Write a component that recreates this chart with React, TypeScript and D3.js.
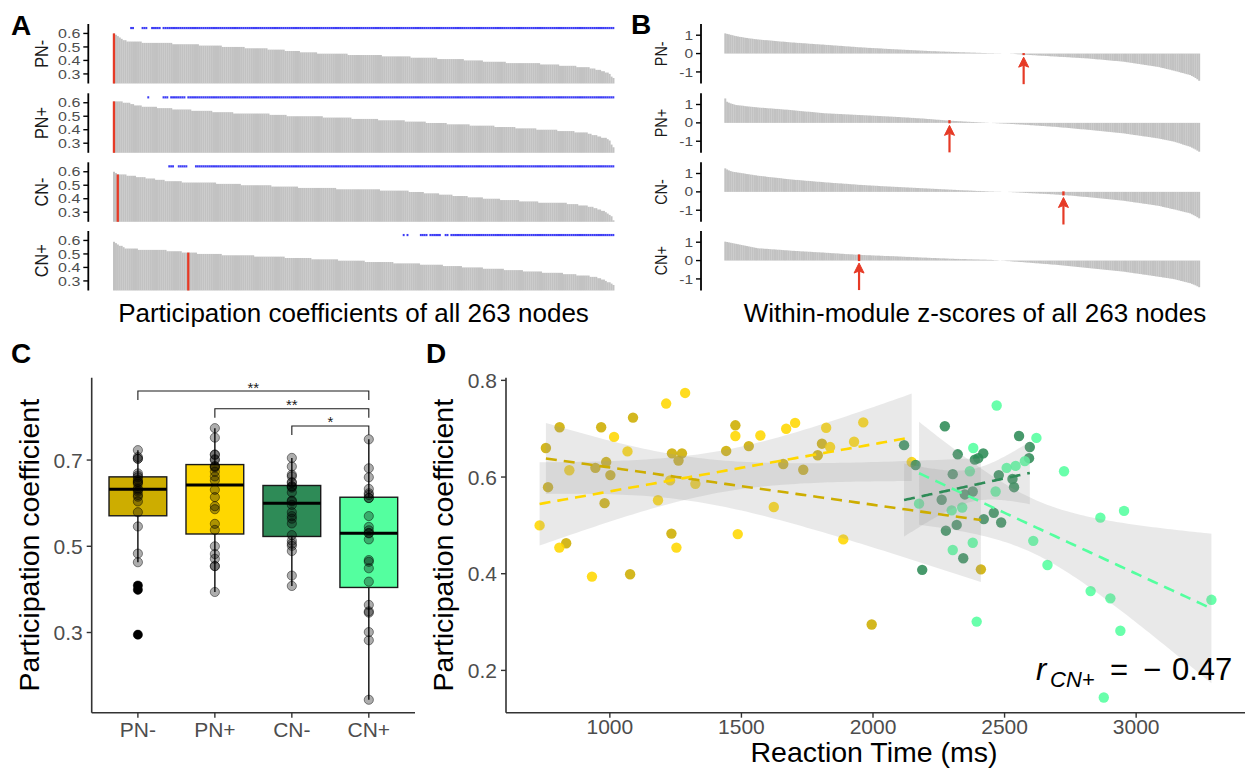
import React from "react";
import * as d3 from "d3";

const FONT = "'Liberation Sans', Arial, Helvetica, sans-serif";

const conditions = ["PN-", "PN+", "CN-", "CN+"];
const conditionColors = ["#CDAD00", "#FFD700", "#2E8B57", "#54FF9F"];

// ---------- Panel A: participation coefficients of 263 nodes (sorted) ----------
const pcNodesPNm = [
  0.60,0.59,0.58,0.57,0.56,0.55,0.55,
  0.54,0.54,0.54,0.54,0.54,0.54,0.54,0.54,
  0.53,0.53,0.53,0.53,0.53,0.53,0.53,0.53,0.53,0.53,0.53,0.53,0.53,0.53,0.53,0.53,
  0.52,0.52,0.52,0.52,0.52,0.52,0.52,0.52,0.52,0.52,0.52,0.52,0.52,0.52,
  0.51,0.51,0.51,0.51,0.51,0.51,0.51,0.51,0.51,0.51,0.51,0.51,
  0.50,0.50,0.50,0.50,0.50,0.50,0.50,0.50,0.50,0.50,0.50,0.50,
  0.49,0.49,0.49,0.49,0.49,0.49,0.49,0.49,0.49,0.49,0.49,0.49,
  0.48,0.48,0.48,0.48,0.48,0.48,0.48,0.48,0.48,
  0.47,0.47,0.47,0.47,0.47,0.47,0.47,0.47,
  0.46,0.46,0.46,0.46,0.46,0.46,0.46,0.46,0.46,
  0.45,0.45,0.45,0.45,0.45,0.45,0.45,0.45,0.45,0.45,0.45,0.45,0.45,0.45,0.45,0.45,
  0.44,0.44,0.44,0.44,0.44,0.44,0.44,0.44,0.44,0.44,0.44,0.44,0.44,0.44,0.44,0.44,0.44,0.44,
  0.43,0.43,0.43,0.43,0.43,0.43,0.43,0.43,0.43,0.43,0.43,0.43,0.43,0.43,0.43,
  0.42,0.42,0.42,0.42,0.42,0.42,0.42,0.42,0.42,0.42,0.42,0.42,0.42,0.42,
  0.41,0.41,0.41,0.41,0.41,0.41,0.41,0.41,0.41,0.41,0.41,0.41,0.41,0.41,
  0.40,0.40,0.40,0.40,0.40,0.40,0.40,0.40,0.40,0.40,
  0.39,0.39,0.39,0.39,0.39,0.39,0.39,0.39,0.39,0.39,0.39,0.39,
  0.38,0.38,0.38,0.38,0.38,0.38,0.38,0.38,0.38,0.38,0.38,0.38,0.38,0.38,0.38,0.38,0.38,0.38,
  0.37,0.37,0.37,0.37,0.37,0.37,0.37,0.37,0.37,0.37,
  0.36,0.36,0.36,0.36,0.36,0.36,0.36,0.36,0.36,
  0.35,0.35,0.35,0.35,0.35,0.35,0.35,
  0.34,0.34,0.34,0.33,0.33,0.33,0.32,0.32,0.31,0.31,0.30,0.28,0.27,
];
const pcNodesPNp = [
  0.61,0.61,0.61,0.61,0.61,
  0.60,0.60,0.60,0.60,
  0.59,0.59,
  0.58,0.58,0.58,0.58,
  0.57,0.57,0.57,0.57,0.57,0.57,0.57,0.57,
  0.56,0.56,0.56,0.56,0.56,0.56,0.56,0.56,
  0.55,0.55,0.55,0.55,0.55,0.55,0.55,0.55,0.55,0.55,
  0.54,0.54,0.54,0.54,0.54,0.54,0.54,0.54,0.54,0.54,0.54,
  0.53,0.53,0.53,0.53,0.53,0.53,0.53,0.53,0.53,0.53,0.53,
  0.52,0.52,0.52,0.52,0.52,0.52,0.52,0.52,0.52,0.52,0.52,0.52,0.52,0.52,0.52,0.52,0.52,0.52,0.52,
  0.51,0.51,0.51,0.51,0.51,0.51,0.51,0.51,0.51,
  0.50,0.50,0.50,0.50,0.50,0.50,0.50,0.50,0.50,0.50,0.50,0.50,0.50,0.50,0.50,0.50,0.50,0.50,0.50,
  0.49,0.49,0.49,0.49,0.49,0.49,0.49,0.49,0.49,0.49,0.49,0.49,0.49,0.49,0.49,
  0.48,0.48,0.48,0.48,0.48,0.48,0.48,0.48,0.48,0.48,0.48,0.48,0.48,0.48,
  0.47,0.47,0.47,0.47,0.47,0.47,0.47,0.47,0.47,0.47,0.47,0.47,0.47,0.47,
  0.46,0.46,0.46,0.46,0.46,0.46,0.46,0.46,0.46,0.46,0.46,
  0.45,0.45,0.45,0.45,0.45,0.45,0.45,0.45,0.45,0.45,0.45,
  0.44,0.44,0.44,0.44,0.44,0.44,0.44,0.44,0.44,0.44,0.44,0.44,
  0.43,0.43,0.43,0.43,0.43,0.43,0.43,0.43,0.43,0.43,0.43,0.43,0.43,
  0.42,0.42,0.42,0.42,0.42,0.42,0.42,0.42,0.42,0.42,0.42,
  0.41,0.41,0.41,0.41,0.41,0.41,0.41,0.41,0.41,0.41,0.41,
  0.40,0.40,0.40,0.40,0.40,0.40,0.40,0.40,0.40,0.40,0.40,
  0.39,0.39,0.39,0.39,0.39,0.39,0.39,0.39,0.39,
  0.38,0.38,0.38,0.38,0.38,0.38,0.38,
  0.37,0.37,0.36,0.36,0.36,0.35,0.35,0.34,0.34,0.34,0.33,0.32,0.29,0.27,
];
const pcNodesCNm = [
  0.60,0.59,
  0.58,0.58,0.58,0.58,0.58,
  0.57,0.57,0.57,0.57,0.57,
  0.56,0.56,0.56,0.56,0.56,
  0.55,0.55,0.55,0.55,0.55,
  0.54,0.54,0.54,0.54,0.54,
  0.53,0.53,0.53,0.53,0.53,0.53,0.53,0.53,0.53,
  0.52,0.52,0.52,0.52,0.52,0.52,0.52,0.52,0.52,0.52,0.52,0.52,0.52,0.52,0.52,0.52,0.52,0.52,
  0.51,0.51,0.51,0.51,0.51,0.51,0.51,0.51,0.51,0.51,0.51,0.51,0.51,
  0.50,0.50,0.50,0.50,0.50,0.50,0.50,0.50,0.50,0.50,0.50,0.50,0.50,0.50,0.50,0.50,
  0.49,0.49,0.49,0.49,0.49,0.49,0.49,0.49,0.49,0.49,0.49,0.49,0.49,0.49,
  0.48,0.48,0.48,0.48,0.48,0.48,0.48,0.48,0.48,0.48,0.48,0.48,0.48,0.48,0.48,0.48,0.48,0.48,0.48,0.48,
  0.47,0.47,0.47,0.47,0.47,0.47,0.47,0.47,0.47,0.47,0.47,0.47,0.47,0.47,0.47,0.47,0.47,0.47,0.47,0.47,0.47,0.47,0.47,
  0.46,0.46,0.46,0.46,0.46,0.46,0.46,0.46,0.46,0.46,0.46,0.46,0.46,0.46,0.46,
  0.45,0.45,0.45,0.45,0.45,0.45,0.45,0.45,
  0.44,0.44,0.44,0.44,0.44,0.44,0.44,0.44,
  0.43,0.43,0.43,0.43,0.43,0.43,0.43,
  0.42,0.42,0.42,0.42,0.42,0.42,0.42,0.42,
  0.41,0.41,0.41,0.41,0.41,0.41,0.41,0.41,
  0.40,0.40,0.40,0.40,0.40,0.40,0.40,0.40,0.40,
  0.39,0.39,0.39,0.39,0.39,0.39,0.39,0.39,0.39,0.39,
  0.38,0.38,0.38,0.38,0.38,0.38,0.38,0.38,0.38,0.38,
  0.37,0.37,0.37,0.37,0.37,0.37,0.37,0.37,0.37,0.37,0.37,0.37,0.37,0.37,0.37,
  0.36,0.36,0.36,0.36,0.36,0.36,
  0.35,0.35,0.35,0.35,0.35,
  0.34,0.34,0.34,0.33,0.33,0.32,0.32,0.31,0.31,0.30,0.29,0.28,0.27,0.24,
];
const pcNodesCNp = [
  0.59,0.58,0.57,0.56,0.56,0.55,
  0.54,0.54,0.54,0.54,0.54,0.54,0.54,
  0.53,0.53,0.53,0.53,0.53,0.53,0.53,0.53,0.53,0.53,0.53,0.53,0.53,0.53,0.53,
  0.52,0.52,0.52,0.52,0.52,0.52,0.52,0.52,
  0.51,0.51,0.51,0.51,0.51,0.51,0.51,0.51,
  0.50,0.50,0.50,0.50,0.50,0.50,0.50,0.50,0.50,0.50,0.50,0.50,0.50,
  0.49,0.49,0.49,0.49,0.49,0.49,0.49,0.49,0.49,0.49,0.49,0.49,0.49,0.49,0.49,0.49,0.49,
  0.48,0.48,0.48,0.48,0.48,0.48,0.48,0.48,0.48,0.48,0.48,0.48,0.48,0.48,0.48,0.48,
  0.47,0.47,0.47,0.47,0.47,0.47,0.47,0.47,0.47,0.47,0.47,0.47,0.47,0.47,
  0.46,0.46,0.46,0.46,0.46,0.46,0.46,0.46,0.46,0.46,0.46,0.46,0.46,0.46,
  0.45,0.45,0.45,0.45,0.45,0.45,0.45,0.45,0.45,0.45,0.45,0.45,0.45,0.45,
  0.44,0.44,0.44,0.44,0.44,0.44,0.44,0.44,0.44,0.44,0.44,0.44,0.44,0.44,0.44,
  0.43,0.43,0.43,0.43,0.43,0.43,0.43,0.43,0.43,0.43,0.43,0.43,0.43,0.43,
  0.42,0.42,0.42,0.42,0.42,0.42,0.42,0.42,0.42,0.42,0.42,0.42,
  0.41,0.41,0.41,0.41,0.41,0.41,0.41,0.41,0.41,0.41,
  0.40,0.40,0.40,0.40,0.40,0.40,0.40,0.40,0.40,0.40,0.40,
  0.39,0.39,0.39,0.39,0.39,0.39,0.39,0.39,0.39,0.39,0.39,
  0.38,0.38,0.38,0.38,0.38,0.38,0.38,0.38,0.38,0.38,
  0.37,0.37,0.37,0.37,0.37,0.37,0.37,0.37,0.37,0.37,
  0.36,0.36,0.36,0.36,0.36,0.36,0.36,0.36,0.36,0.36,0.36,
  0.35,0.35,0.35,0.35,0.35,0.35,0.35,
  0.34,0.34,0.34,0.34,0.34,0.34,0.34,
  0.33,0.33,0.33,0.33,0.32,0.32,0.31,0.31,0.30,0.29,0.29,0.28,0.27,
];
const pcNodeRows = [pcNodesPNm, pcNodesPNp, pcNodesCNm, pcNodesCNp];
const highlightNodeA = [0, 0, 2, 39];
const sigNodeRangesA = [
  [[9, 10], [15, 17], [20, 24], [26, 262]],
  [[18, 18], [26, 28], [30, 37], [39, 262]],
  [[29, 31], [34, 38], [43, 262]],
  [[152, 152], [154, 154], [161, 164], [166, 171], [174, 175], [177, 181], [182, 262]],
];
const pcTicksA = [0.3, 0.4, 0.5, 0.6];
const pcDomainA = [0.229, 0.67];
const sigLevelA = 0.64;

// ---------- Panel B: within-module z-scores of 263 nodes (sorted) ----------
const zNodesPNm = [
  1.10,1.07,1.05,1.02,1.00,0.97,0.95,
  0.93,0.91,0.90,0.88,0.86,
  0.85,0.83,0.82,0.81,0.79,0.78,0.77,
  0.76,0.75,0.74,0.73,0.73,0.72,0.71,0.70,0.69,0.68,0.67,0.66,0.65,0.65,0.64,0.63,0.62,0.61,
  0.60,0.60,0.59,0.58,0.58,0.57,0.56,0.56,0.55,0.54,0.53,0.53,0.52,0.51,0.51,0.50,0.49,0.49,0.48,
  0.47,0.47,0.46,0.45,0.44,0.44,0.43,0.42,0.42,0.41,0.40,0.39,0.39,0.38,0.37,0.37,0.36,0.35,
  0.34,0.34,0.33,0.33,0.32,0.31,0.31,0.30,0.30,0.29,0.29,0.28,0.28,0.27,0.26,0.26,0.25,0.25,0.24,
  0.24,0.23,0.23,0.22,0.22,0.21,0.21,0.20,0.20,0.19,0.19,0.18,0.18,0.17,0.17,0.16,0.16,0.15,
  0.15,0.14,0.14,0.13,0.13,0.13,0.12,0.12,0.11,0.11,0.11,0.10,0.10,0.10,0.09,0.09,0.08,0.08,
  0.08,0.07,0.07,0.07,0.06,0.06,0.06,0.05,0.05,0.05,0.04,0.04,0.04,0.03,0.03,0.03,0.02,0.02,0.02,
  0.02,0.01,0.01,0.01,0.01,0.00,0.00,0.00,0.00,0.00,
  -0.01,-0.01,-0.02,-0.03,-0.04,-0.04,-0.05,-0.06,
  -0.07,-0.07,-0.08,-0.08,-0.09,-0.09,-0.10,-0.11,-0.11,-0.12,-0.12,-0.13,-0.13,-0.14,-0.15,-0.15,-0.16,-0.16,-0.17,
  -0.18,-0.18,-0.19,-0.19,-0.20,-0.20,-0.21,-0.22,-0.22,-0.23,-0.23,-0.24,-0.25,-0.25,-0.26,-0.26,-0.27,-0.28,
  -0.29,-0.30,-0.31,-0.32,-0.32,-0.33,-0.34,-0.35,-0.36,-0.37,-0.38,-0.39,-0.40,-0.40,-0.41,-0.42,-0.43,-0.44,
  -0.45,-0.47,-0.48,-0.50,-0.51,-0.53,-0.54,-0.56,-0.57,-0.59,-0.60,-0.62,-0.63,-0.65,-0.66,-0.68,-0.69,-0.71,-0.72,
  -0.74,-0.77,-0.79,-0.81,-0.84,-0.86,-0.88,-0.91,-0.93,
  -0.96,-0.98,-1.01,-1.04,-1.06,-1.09,-1.12,-1.14,-1.17,
  -1.22,-1.27,-1.33,-1.40,-1.48,
];
const zNodesPNp = [
  1.33,1.15,1.10,1.06,1.03,1.00,0.97,
  0.96,0.95,0.94,0.93,0.91,0.90,0.89,0.88,0.87,0.86,0.85,0.84,
  0.83,0.82,0.82,0.81,0.80,0.79,0.79,0.78,0.77,0.76,0.76,0.75,0.74,0.73,0.72,0.72,0.71,0.70,
  0.69,0.68,0.67,0.66,0.65,0.64,0.63,0.62,0.61,0.61,0.60,0.59,0.58,0.57,0.56,0.55,0.54,0.53,0.52,
  0.52,0.51,0.51,0.50,0.50,0.49,0.49,0.48,0.48,0.47,0.47,0.46,0.46,0.45,0.45,0.44,0.44,0.43,
  0.43,0.42,0.42,0.41,0.41,0.40,0.40,0.39,0.39,0.38,0.38,0.37,0.37,0.36,0.36,0.35,0.35,0.34,0.34,
  0.33,0.33,0.32,0.32,0.31,0.30,0.30,0.29,0.29,0.28,0.27,0.27,0.26,0.25,0.25,0.24,0.24,0.23,
  0.22,0.21,0.21,0.20,0.19,0.18,0.17,0.17,0.16,0.15,0.14,0.13,0.13,0.12,
  0.11,0.11,0.10,0.10,0.09,0.09,0.08,0.07,0.07,0.06,0.06,0.05,0.05,0.04,
  0.04,0.03,0.03,0.02,0.02,0.01,0.01,0.00,0.00,
  -0.01,-0.01,-0.02,-0.02,-0.03,-0.03,-0.04,-0.04,-0.05,-0.05,-0.06,-0.06,-0.07,-0.08,-0.08,-0.09,-0.09,-0.10,
  -0.11,-0.11,-0.12,-0.13,-0.13,-0.14,-0.15,-0.15,-0.16,-0.17,-0.17,-0.18,-0.19,-0.19,-0.20,-0.21,-0.21,-0.22,-0.23,
  -0.24,-0.25,-0.26,-0.26,-0.27,-0.28,-0.29,-0.30,-0.31,-0.32,-0.33,-0.34,-0.35,-0.35,-0.36,-0.37,-0.38,-0.39,
  -0.40,-0.41,-0.42,-0.43,-0.44,-0.45,-0.46,-0.47,-0.48,-0.49,-0.50,-0.51,-0.52,-0.53,-0.54,-0.55,-0.56,-0.57,
  -0.58,-0.60,-0.61,-0.63,-0.64,-0.66,-0.67,-0.68,-0.70,-0.71,-0.73,-0.74,-0.75,-0.77,-0.78,-0.80,-0.81,-0.83,-0.84,
  -0.86,-0.88,-0.90,-0.92,-0.94,-0.96,-0.98,-1.00,-1.02,
  -1.05,-1.08,-1.11,-1.14,-1.18,-1.21,-1.24,-1.27,-1.30,
  -1.35,-1.40,-1.45,-1.51,-1.57,
];
const zNodesCNm = [
  1.28,1.22,1.17,1.13,1.10,
  1.08,1.07,1.05,1.04,1.02,1.01,0.99,0.97,0.96,0.94,0.93,0.91,0.90,0.88,
  0.87,0.86,0.85,0.84,0.82,0.81,0.80,0.79,0.78,0.77,0.76,0.75,0.74,0.72,0.71,0.70,0.69,0.68,
  0.67,0.66,0.65,0.65,0.64,0.63,0.62,0.61,0.60,0.60,0.59,0.58,0.57,0.56,0.55,0.55,0.54,0.53,0.52,
  0.51,0.51,0.50,0.49,0.48,0.48,0.47,0.46,0.46,0.45,0.44,0.44,0.43,0.42,0.41,0.41,0.40,0.39,
  0.38,0.38,0.37,0.37,0.36,0.35,0.35,0.34,0.34,0.33,0.33,0.32,0.31,0.31,0.30,0.30,0.29,0.29,0.28,
  0.28,0.27,0.27,0.26,0.26,0.25,0.25,0.24,0.24,0.23,0.23,0.22,0.22,0.21,0.21,0.20,0.20,0.19,
  0.19,0.18,0.18,0.17,0.17,0.16,0.16,0.15,0.15,0.14,0.14,0.13,0.13,0.12,0.12,0.11,0.11,0.10,
  0.10,0.09,0.09,0.08,0.08,0.08,0.07,0.07,0.06,0.06,0.05,0.05,0.05,0.04,0.04,0.03,0.03,0.02,0.02,
  0.02,0.01,0.01,0.01,0.01,0.00,0.00,0.00,0.00,
  -0.01,-0.01,-0.02,-0.02,-0.03,-0.03,-0.04,-0.04,-0.05,
  -0.06,-0.06,-0.07,-0.07,-0.08,-0.08,-0.09,-0.09,-0.10,-0.10,-0.11,-0.11,-0.12,-0.12,-0.13,-0.13,-0.14,-0.15,-0.15,-0.16,-0.16,-0.17,
  -0.18,-0.19,-0.20,-0.20,-0.21,-0.22,-0.23,-0.24,-0.25,-0.26,-0.27,-0.27,-0.28,-0.29,-0.30,
  -0.31,-0.32,-0.33,-0.34,-0.35,-0.36,-0.37,-0.38,-0.39,-0.40,-0.41,-0.42,-0.43,-0.44,-0.45,-0.46,-0.47,-0.48,
  -0.49,-0.51,-0.52,-0.54,-0.55,-0.57,-0.58,-0.59,-0.61,-0.62,-0.64,-0.65,-0.66,-0.68,-0.69,-0.71,-0.72,-0.74,-0.75,
  -0.77,-0.79,-0.82,-0.84,-0.86,-0.88,-0.91,-0.93,-0.95,
  -0.97,-1.00,-1.02,-1.05,-1.07,-1.10,-1.12,-1.14,-1.17,
  -1.22,-1.27,-1.32,-1.38,-1.44,
];
const zNodesCNp = [
  1.03,1.01,0.99,0.97,0.95,0.93,0.91,0.89,0.87,0.85,
  0.83,0.81,0.79,0.77,0.75,0.73,0.71,0.69,0.67,
  0.66,0.66,0.65,0.64,0.64,0.63,0.62,0.61,0.61,0.60,0.59,0.59,0.58,0.57,0.56,0.56,0.55,0.54,
  0.53,0.53,0.52,0.52,0.51,0.50,0.50,0.49,0.49,0.48,0.48,0.47,0.46,0.46,0.45,0.45,0.44,0.44,0.43,
  0.42,0.42,0.41,0.40,0.40,0.39,0.39,0.38,0.37,0.37,0.36,0.35,0.35,0.34,0.34,0.33,0.32,0.32,0.31,
  0.31,0.30,0.30,0.29,0.29,0.29,0.28,0.28,0.27,0.27,0.27,0.26,0.26,0.25,0.25,0.25,0.24,0.24,
  0.24,0.23,0.23,0.22,0.22,0.21,0.21,0.20,0.20,0.20,0.19,0.19,0.18,0.18,0.17,0.17,0.16,0.16,
  0.16,0.15,0.15,0.14,0.14,0.14,0.13,0.13,0.12,0.12,0.12,0.11,0.11,0.10,0.10,0.10,0.09,0.09,
  0.09,0.08,0.08,0.08,0.08,0.07,0.07,0.07,0.06,0.06,0.06,0.06,0.05,0.05,0.05,0.05,0.04,0.04,0.04,
  0.03,0.02,0.02,0.01,0.00,
  -0.01,-0.01,-0.02,-0.03,-0.03,-0.04,-0.05,-0.06,-0.06,-0.07,-0.08,-0.08,-0.09,
  -0.10,-0.11,-0.11,-0.12,-0.13,-0.14,-0.15,-0.15,-0.16,-0.17,-0.18,-0.19,-0.19,-0.20,-0.21,-0.22,-0.22,-0.23,-0.24,
  -0.25,-0.26,-0.27,-0.28,-0.29,-0.30,-0.31,-0.32,-0.33,-0.34,-0.35,-0.36,-0.37,-0.38,-0.39,-0.40,-0.41,-0.42,
  -0.43,-0.44,-0.45,-0.46,-0.47,-0.48,-0.49,-0.50,-0.51,-0.52,-0.53,-0.54,-0.55,-0.56,-0.57,-0.58,-0.59,-0.60,
  -0.61,-0.63,-0.64,-0.66,-0.67,-0.69,-0.70,-0.71,-0.73,-0.74,-0.76,-0.77,-0.78,-0.80,-0.81,-0.83,-0.84,-0.86,-0.87,
  -0.89,-0.90,-0.92,-0.93,-0.95,-0.96,-0.98,-0.99,-1.01,
  -1.03,-1.06,-1.08,-1.11,-1.13,-1.16,-1.18,-1.21,-1.23,
  -1.27,-1.31,-1.35,-1.40,-1.45,
];
const zNodeRows = [zNodesPNm, zNodesPNp, zNodesCNm, zNodesCNp];
const highlightNodeB = [165, 124, 187, 74];
const zTicksB = [-1, 0, 1];
const zDomainB = [-1.63, 1.61];

// ---------- Panels C & D: per-subject data ----------
const rtPNm = [757, 765, 809, 834, 945, 967, 986, 1002, 980, 1088, 1077, 1236, 1274, 1261, 1234, 1442, 1477, 1528, 1659, 1735, 1790, 1806, 1995, 2410];
const pcPNm = [0.660, 0.579, 0.703, 0.463, 0.619, 0.703, 0.631, 0.604, 0.546, 0.723, 0.399, 0.649, 0.649, 0.634, 0.483, 0.654, 0.707, 0.664, 0.627, 0.615, 0.645, 0.669, 0.295, 0.409];
const rtPNp = [733, 808, 846, 932, 1016, 1067, 1183, 1214, 1286, 1229, 1253, 1325, 1477, 1486, 1572, 1670, 1704, 1623, 1822, 1837, 1887, 1928, 1963, 2147];
const pcPNp = [0.500, 0.454, 0.614, 0.394, 0.683, 0.653, 0.552, 0.752, 0.774, 0.593, 0.454, 0.586, 0.685, 0.482, 0.686, 0.700, 0.712, 0.538, 0.702, 0.662, 0.471, 0.673, 0.713, 0.631];
const rtCNm = [2118, 2162, 2187, 2273, 2261, 2277, 2303, 2318, 2322, 2343, 2349, 2379, 2387, 2400, 2419, 2421, 2459, 2487, 2478, 2530, 2536, 2555, 2596, 2593];
const pcCNm = [0.666, 0.625, 0.408, 0.705, 0.553, 0.489, 0.606, 0.501, 0.647, 0.432, 0.564, 0.570, 0.636, 0.639, 0.649, 0.513, 0.526, 0.506, 0.604, 0.596, 0.579, 0.685, 0.662, 0.639];
const rtCNp = [2175, 2299, 2303, 2339, 2368, 2381, 2379, 2394, 2466, 2470, 2508, 2542, 2577, 2621, 2609, 2663, 2726, 2827, 2864, 2902, 2954, 2940, 2877, 3286];
const pcCNp = [0.545, 0.531, 0.449, 0.537, 0.612, 0.660, 0.464, 0.301, 0.570, 0.748, 0.619, 0.623, 0.633, 0.681, 0.468, 0.418, 0.612, 0.364, 0.516, 0.349, 0.530, 0.282, 0.144, 0.346];
const rtByCondition = [rtPNm, rtPNp, rtCNm, rtCNp];
const pcByCondition = [pcPNm, pcPNp, pcCNm, pcCNp];

const comparisons = [
  { from: 0, to: 3, level: 0.860, label: "**" },
  { from: 1, to: 3, level: 0.819, label: "**" },
  { from: 2, to: 3, level: 0.779, label: "*" },
];
const pcTicksC = [0.3, 0.5, 0.7];
const pcDomainC = [0.114, 0.891];
const pcTicksD = [0.2, 0.4, 0.6, 0.8];
const rtTicksD = [1000, 1500, 2000, 2500, 3000];
const tCrit22 = 2.0739;
const corrLabel = { sub: "CN+", value: "0.47" };

// ---------- layout ----------
const ROW_TOPS = [24, 93.3, 162.3, 231];
const ROW_H = 59.5;
const A = { axis: 88.3, x0: 113, x1: 614.3 };
const B = { axis: 701, x0: 724.3, x1: 1200 };
const C = { left: 91.7, right: 415, top: 377.7, bottom: 712.7 };
const D = { left: 506, right: 1245, top: 377.7, bottom: 712.7 };

const GRAY_BAR = "#c2c2c2";
const RED = "#e63a26";
const BLUE = "#3c3cf5";
const TICK_TXT = "#4d4d4d";

function PanelA() {
  return (
    <g>
      <text x={11} y={35} fontSize={28} fontWeight="bold">A</text>
      {pcNodeRows.map((vals, r) => {
        const top = ROW_TOPS[r];
        const bottom = top + ROW_H;
        const x = d3.scaleBand<number>().domain(d3.range(vals.length)).range([A.x0, A.x1]).paddingInner(0);
        const y = d3.scaleLinear().domain(pcDomainA).range([bottom, top]);
        const hi = highlightNodeA[r];
        const sigNodes: number[] = [];
        sigNodeRangesA[r].forEach(([a, b]) => { for (let i = a; i <= b; i++) sigNodes.push(i); });
        return (
          <g key={r}>
            {vals.map((v, i) => (
              <rect key={i} x={x(i)} y={y(v)} width={x.step() + 0.15} height={bottom - y(v)} fill={GRAY_BAR} />
            ))}
            <rect x={(x(hi) as number) - 0.2} y={y(vals[hi])} width={Math.max(x.bandwidth() + 0.4, 2.2)} height={bottom - y(vals[hi])} fill={RED} />
            {sigNodes.map((i) => (
              <rect key={"s" + i} x={x(i)} y={y(sigLevelA) - 1.1} width={x.step()} height={2.2} fill={BLUE} />
            ))}
            <line x1={A.axis} x2={A.axis} y1={top} y2={bottom} stroke="#000" strokeWidth={1.8} />
            {pcTicksA.map((t) => (
              <g key={t}>
                <line x1={A.axis - 5} x2={A.axis} y1={y(t)} y2={y(t)} stroke="#000" strokeWidth={1.4} />
                <text transform={`translate(${A.axis - 8},${y(t)}) scale(1,0.82)`} dy="0.36em" textAnchor="end" fontSize={16} fill={TICK_TXT}>{t.toFixed(1)}</text>
              </g>
            ))}
            <text transform={`translate(47.5,${(top + bottom) / 2}) scale(1,0.9) rotate(-90)`} textAnchor="middle" fontSize={18} fill="#1a1a1a">{conditions[r]}</text>
          </g>
        );
      })}
      <text x={353.5} y={322} fontSize={26} textAnchor="middle">Participation coefficients of all 263 nodes</text>
    </g>
  );
}

function PanelB() {
  return (
    <g>
      <text x={631} y={34} fontSize={28} fontWeight="bold">B</text>
      {zNodeRows.map((vals, r) => {
        const top = ROW_TOPS[r];
        const bottom = top + ROW_H;
        const x = d3.scaleBand<number>().domain(d3.range(vals.length)).range([B.x0, B.x1]).paddingInner(0);
        const y = d3.scaleLinear().domain(zDomainB).range([bottom, top]);
        const hi = highlightNodeB[r];
        const hv = vals[hi];
        const cx = (x(hi) as number) + x.bandwidth() / 2;
        const tipY = y(Math.min(0, hv)) + 2.5;
        const tailY = tipY + 27;
        return (
          <g key={r}>
            {vals.map((v, i) => (
              <rect key={i} x={x(i)} y={y(Math.max(0, v))} width={x.step() + 0.15} height={Math.abs(y(v) - y(0))} fill={GRAY_BAR} />
            ))}
            <rect x={cx - 1.2} y={y(Math.max(0, hv)) - 0.5} width={2.4} height={Math.abs(y(hv) - y(0)) + 1} fill={RED} />
            <line x1={cx} x2={cx} y1={tailY} y2={tipY + 8} stroke={RED} strokeWidth={2.2} />
            <path d={`M${cx},${tipY} L${cx - 5},${tipY + 10} L${cx},${tipY + 8} L${cx + 5},${tipY + 10} Z`} fill={RED} stroke={RED} strokeWidth={1} strokeLinejoin="round" />
            <line x1={B.axis} x2={B.axis} y1={top} y2={bottom} stroke="#000" strokeWidth={1.8} />
            {zTicksB.map((t) => (
              <g key={t}>
                <line x1={B.axis - 5} x2={B.axis} y1={y(t)} y2={y(t)} stroke="#000" strokeWidth={1.4} />
                <text transform={`translate(${B.axis - 8},${y(t)}) scale(1,0.82)`} dy="0.36em" textAnchor="end" fontSize={15.5} fill={TICK_TXT}>{t}</text>
              </g>
            ))}
            <text transform={`translate(667,${(top + bottom) / 2}) scale(1,0.9) rotate(-90)`} textAnchor="middle" fontSize={16} fill="#1a1a1a">{conditions[r]}</text>
          </g>
        );
      })}
      <text x={975} y={322} fontSize={26} textAnchor="middle">Within-module z-scores of all 263 nodes</text>
    </g>
  );
}

function boxStats(vals: number[]) {
  const s = [...vals].sort(d3.ascending);
  const q1 = d3.quantileSorted(s, 0.25) as number;
  const med = d3.quantileSorted(s, 0.5) as number;
  const q3 = d3.quantileSorted(s, 0.75) as number;
  const iqr = q3 - q1;
  const loF = q1 - 1.5 * iqr, hiF = q3 + 1.5 * iqr;
  const inside = s.filter((v) => v >= loF && v <= hiF);
  return { q1, med, q3, lo: d3.min(inside) as number, hi: d3.max(inside) as number, out: s.filter((v) => v < loF || v > hiF) };
}

function PanelC() {
  const x = d3.scaleLinear().domain([0.4, 4.6]).range([C.left, C.right]);
  const y = d3.scaleLinear().domain(pcDomainC).range([C.bottom, C.top]);
  const half = x(1.375) - x(1);
  return (
    <g>
      <text x={11} y={363} fontSize={28} fontWeight="bold">C</text>
      {pcByCondition.map((vals, k) => {
        const st = boxStats(vals);
        const cx = x(k + 1);
        return (
          <g key={k}>
            <line x1={cx} x2={cx} y1={y(st.hi)} y2={y(st.q3)} stroke="#1a1a1a" strokeWidth={1.5} />
            <line x1={cx} x2={cx} y1={y(st.q1)} y2={y(st.lo)} stroke="#1a1a1a" strokeWidth={1.5} />
            <rect x={cx - half} y={y(st.q3)} width={half * 2} height={y(st.q1) - y(st.q3)} fill={conditionColors[k]} stroke="#1a1a1a" strokeWidth={1.4} />
            <line x1={cx - half} x2={cx + half} y1={y(st.med)} y2={y(st.med)} stroke="#000" strokeWidth={3} />
            {st.out.map((v, i) => (
              <circle key={"o" + i} cx={cx} cy={y(v)} r={4.6} fill="#000" />
            ))}
            {vals.map((v, i) => (
              <circle key={i} cx={cx} cy={y(v)} r={4.6} fill="#000" fillOpacity={0.32} stroke="#000" strokeOpacity={0.45} strokeWidth={1} />
            ))}
          </g>
        );
      })}
      {comparisons.map((c, i) => {
        const x1 = x(c.from + 1), x2 = x(c.to + 1), yy = y(c.level);
        return (
          <g key={i}>
            <path d={`M${x1},${yy + 9} V${yy} H${x2} V${yy + 9}`} fill="none" stroke="#1a1a1a" strokeWidth={1.1} />
            <text x={(x1 + x2) / 2} y={yy + 1.5} textAnchor="middle" fontSize={15} fill="#1a1a1a">{c.label}</text>
          </g>
        );
      })}
      <line x1={C.left} x2={C.left} y1={C.top} y2={C.bottom} stroke="#333" strokeWidth={1.6} />
      <line x1={C.left} x2={C.right} y1={C.bottom} y2={C.bottom} stroke="#333" strokeWidth={1.6} />
      {pcTicksC.map((t) => (
        <g key={t}>
          <line x1={C.left - 5} x2={C.left} y1={y(t)} y2={y(t)} stroke="#333" strokeWidth={1.4} />
          <text x={C.left - 9} y={y(t)} dy="0.36em" textAnchor="end" fontSize={21} fill={TICK_TXT}>{t.toFixed(1)}</text>
        </g>
      ))}
      {conditions.map((c, k) => (
        <g key={c}>
          <line x1={x(k + 1)} x2={x(k + 1)} y1={C.bottom} y2={C.bottom + 5} stroke="#333" strokeWidth={1.4} />
          <text x={x(k + 1)} y={736.5} textAnchor="middle" fontSize={21} fill={TICK_TXT}>{c}</text>
        </g>
      ))}
      <text transform={`translate(39,${(C.top + C.bottom) / 2}) rotate(-90)`} textAnchor="middle" fontSize={28.5}>Participation coefficient</text>
    </g>
  );
}

function lmBand(xs: number[], ys: number[]) {
  const n = xs.length;
  const mx = d3.mean(xs) as number, my = d3.mean(ys) as number;
  let sxx = 0, sxy = 0;
  xs.forEach((xv, i) => { sxx += (xv - mx) ** 2; sxy += (xv - mx) * (ys[i] - my); });
  const b = sxy / sxx, a = my - b * mx;
  const rss = d3.sum(xs, (xv, i) => (ys[i] - a - b * xv) ** 2);
  const s = Math.sqrt(rss / (n - 2));
  const [x0, x1] = d3.extent(xs) as [number, number];
  return d3.range(81).map((k) => {
    const xv = x0 + ((x1 - x0) * k) / 80;
    const fit = a + b * xv;
    const se = s * Math.sqrt(1 / n + (xv - mx) ** 2 / sxx);
    return { x: xv, fit, lo: fit - tCrit22 * se, hi: fit + tCrit22 * se };
  });
}

function PanelD() {
  const allRT = rtByCondition.flat();
  const allPC = pcByCondition.flat();
  const [rMin, rMax] = d3.extent(allRT) as [number, number];
  const [pMin, pMax] = d3.extent(allPC) as [number, number];
  const rPad = (rMax - rMin) * 0.05, pPad = (pMax - pMin) * 0.05;
  const x = d3.scaleLinear().domain([rMin - rPad, rMax + rPad]).range([D.left, D.right]);
  const y = d3.scaleLinear().domain([pMin - pPad, pMax + pPad]).range([D.bottom, D.top]);
  const fits = rtByCondition.map((xs, k) => lmBand(xs, pcByCondition[k]));
  const area = d3.area<any>().x((d) => x(d.x)).y0((d) => y(d.lo)).y1((d) => y(d.hi));
  const line = d3.line<any>().x((d) => x(d.x)).y((d) => y(d.fit));
  return (
    <g>
      <text x={426} y={363} fontSize={28} fontWeight="bold">D</text>
      <defs>
        <clipPath id="clipD">
          <rect x={D.left} y={D.top} width={D.right - D.left} height={D.bottom - D.top} />
        </clipPath>
      </defs>
      <g clipPath="url(#clipD)">
        {rtByCondition.map((xs, k) => (
          <g key={k}>
            {xs.map((rt, i) => (
              <circle key={i} cx={x(rt)} cy={y(pcByCondition[k][i])} r={5.2} fill={conditionColors[k]} fillOpacity={0.88} />
            ))}
          </g>
        ))}
        {fits.map((f, k) => (
          <path key={"b" + k} d={area(f) as string} fill="#999999" fillOpacity={0.22} />
        ))}
        {fits.map((f, k) => (
          <path key={"l" + k} d={line(f) as string} fill="none" stroke={conditionColors[k]} strokeWidth={2.6} strokeDasharray="11 7" />
        ))}
      </g>
      <line x1={D.left} x2={D.left} y1={D.top} y2={D.bottom} stroke="#333" strokeWidth={1.6} />
      <line x1={D.left} x2={D.right} y1={D.bottom} y2={D.bottom} stroke="#333" strokeWidth={1.6} />
      {pcTicksD.map((t) => (
        <g key={t}>
          <line x1={D.left - 5} x2={D.left} y1={y(t)} y2={y(t)} stroke="#333" strokeWidth={1.4} />
          <text x={D.left - 9} y={y(t)} dy="0.36em" textAnchor="end" fontSize={21} fill={TICK_TXT}>{t.toFixed(1)}</text>
        </g>
      ))}
      {rtTicksD.map((t) => (
        <g key={t}>
          <line x1={x(t)} x2={x(t)} y1={D.bottom} y2={D.bottom + 5} stroke="#333" strokeWidth={1.4} />
          <text x={x(t)} y={734} textAnchor="middle" fontSize={21} fill={TICK_TXT}>{t}</text>
        </g>
      ))}
      <text transform={`translate(453,${(D.top + D.bottom) / 2}) rotate(-90)`} textAnchor="middle" fontSize={28.5}>Participation coefficient</text>
      <text x={874} y={762} textAnchor="middle" fontSize={28.5}>Reaction Time (ms)</text>
      <text y={680} fontSize={31}>
        <tspan x={1036} fontStyle="italic">r</tspan>
        <tspan x={1050} dy={6.5} fontSize={22} fontStyle="italic">{corrLabel.sub}</tspan>
        <tspan x={1110} dy={-6.5}>=</tspan>
        <tspan x={1143}>−</tspan>
        <tspan x={1172}>{corrLabel.value}</tspan>
      </text>
    </g>
  );
}

export default function App() {
  return (
    <svg width={1248} height={772} viewBox="0 0 1248 772" style={{ position: "absolute", left: 0, top: 0, display: "block" }} fontFamily={FONT}>
      <rect width={1248} height={772} fill="#fff" />
      <PanelA />
      <PanelB />
      <PanelC />
      <PanelD />
    </svg>
  );
}
